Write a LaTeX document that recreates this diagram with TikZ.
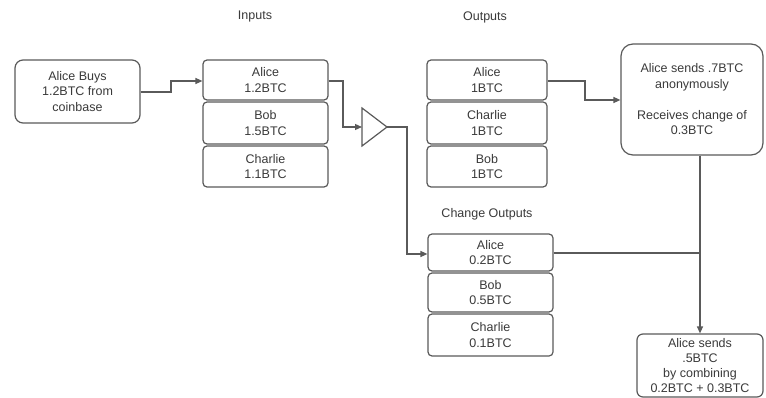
\documentclass[tikz,border=0pt]{standalone}
\usepackage{fontspec}
\setmainfont{Liberation Sans}
\usetikzlibrary{arrows.meta}
\definecolor{ln}{HTML}{5A5A5A}
\definecolor{tx}{HTML}{3A3A3A}
\tikzset{
  box/.style={draw=ln, line width=1.2pt, rounded corners=4pt, align=center, text=tx,
    font=\fontsize{12.5}{15.5}\selectfont, inner sep=0pt},
  lbl/.style={text=tx, font=\fontsize{12.5}{15}\selectfont},
  conn/.style={draw=ln, line width=1.2pt, -{Triangle[length=7pt,width=6pt]}},
  plain/.style={draw=ln, line width=1.2pt},
}
\begin{document}
\begin{tikzpicture}[x=1pt,y=-1pt]
\useasboundingbox[fill=white] (0,0) rectangle (766,398);
% labels
\node[lbl] (linputs) at (255,17) {Inputs};
\node[lbl] (loutputs) at (485,17) {Outputs};
\node[lbl] (lchange) at (487,214) {Change Outputs};
% source
\node[box, rounded corners=8pt, minimum width=125pt, minimum height=63pt] (buy) at (77.5,91.5) {Alice Buys\\1.2BTC from\\coinbase};
% inputs
\node[box, minimum width=125pt, minimum height=40pt] (inA) at (265.5,80) {Alice\\1.2BTC};
\node[box, minimum width=125pt, minimum height=42pt] (inB) at (265.5,123) {Bob\\1.5BTC};
\node[box, minimum width=125pt, minimum height=41pt] (inC) at (265.5,166.5) {Charlie\\1.1BTC};
% outputs
\node[box, minimum width=120pt, minimum height=40pt] (outA) at (487,80) {Alice\\1BTC};
\node[box, minimum width=120pt, minimum height=42pt] (outC) at (487,123) {Charlie\\1BTC};
\node[box, minimum width=120pt, minimum height=41pt] (outB) at (487,166.5) {Bob\\1BTC};
% change outputs
\node[box, minimum width=125pt, minimum height=37pt] (chA) at (490.5,252.5) {Alice\\0.2BTC};
\node[box, minimum width=125pt, minimum height=39pt] (chB) at (490.5,292.5) {Bob\\0.5BTC};
\node[box, minimum width=125pt, minimum height=42pt] (chC) at (490.5,335) {Charlie\\0.1BTC};
% big box
\node[box, rounded corners=12pt, minimum width=142pt, minimum height=111pt] (send7) at (692,99.5) {Alice sends .7BTC\\anonymously\\[15.5pt]Receives change of\\0.3BTC};
% final box
\node[box, rounded corners=6pt, minimum width=126pt, minimum height=63pt, font=\fontsize{12.5}{15.2}\selectfont] (send5) at (700,365.5) {Alice sends\\.5BTC\\by combining\\0.2BTC + 0.3BTC};
% mixer triangle
\draw[plain, fill=white] (362,108) -- (387,127) -- (362,146) -- cycle;
\coordinate (triin) at (362,127);
\coordinate (triout) at (387,127);
\coordinate (j1) at (700,253);
% connectors
\draw[conn] (buy.east |- 0,92) -- (171,92) -- (171,81) -- (inA.west |- 0,81);
\draw[conn] (inA.east |- 0,81) -- (343,81) -- (343,127) -- (triin);
\draw[conn] (triout) -- (407,127) -- (407,254) -- (chA.west |- 0,254);
\draw[conn] (outA.east |- 0,81) -- (585,81) -- (585,100) -- (send7.west |- 0,100);
\draw[plain] (chA.east |- j1) -- (j1);
\draw[conn] (send7.south -| j1) -- (send5.north -| j1);
\end{tikzpicture}
\end{document}
